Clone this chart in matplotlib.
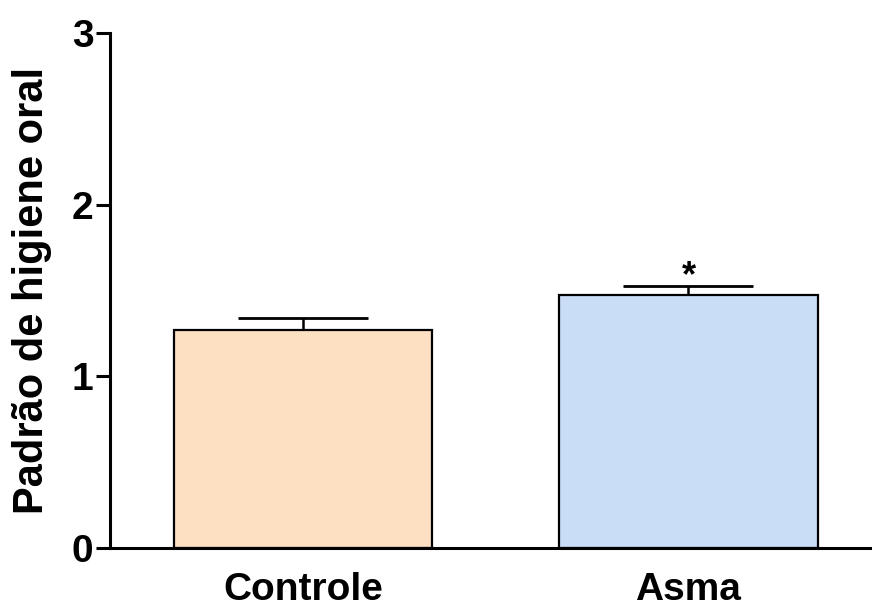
import matplotlib
matplotlib.use("Agg")
import matplotlib.pyplot as plt

plt.rcParams['font.family'] = ['Liberation Sans', 'DejaVu Sans']
plt.rcParams['font.weight'] = 'bold'

grupos = ['Controle', 'Asma']
medias = [1.27, 1.473]
epm = [0.07, 0.053]
cores = ['#FDDFC2', '#C9DEF6']
yticks = [0, 1, 2, 3]

fig = plt.figure(figsize=(8.72, 6.06), dpi=100)
ax = fig.add_axes([110/872, 1-548/606, 1-110/872, (548-33)/606])

x = range(len(grupos))
ax.bar(x, medias, width=0.67, color=cores, edgecolor='black', linewidth=1.6, zorder=2)
ax.errorbar(x, medias, yerr=[[0, 0], epm], fmt='none', ecolor='black',
            elinewidth=1.8, capsize=47, capthick=2.0, zorder=1)

# asterisco de significância
ax.text(1, medias[1] + epm[1] - 0.05, '*', ha='center', va='bottom',
        fontsize=26, fontweight='bold')

ax.set_xlim(-0.5, 1.476)
ax.set_ylim(0, 3)
ax.set_yticks(yticks)
ax.set_xticks(list(x))
ax.set_xticklabels(grupos)
ax.spines['top'].set_visible(False)
ax.spines['right'].set_visible(False)
ax.spines['left'].set_linewidth(2.2)
ax.spines['bottom'].set_linewidth(2.2)
ax.tick_params(axis='y', length=10, width=2.2, labelsize=28, pad=2)
ax.tick_params(axis='x', length=0, labelsize=28, pad=17)
ax.set_ylabel('Padrão de higiene oral', fontsize=30, fontweight='bold', labelpad=14)

fig.savefig('out.png', dpi=100)
